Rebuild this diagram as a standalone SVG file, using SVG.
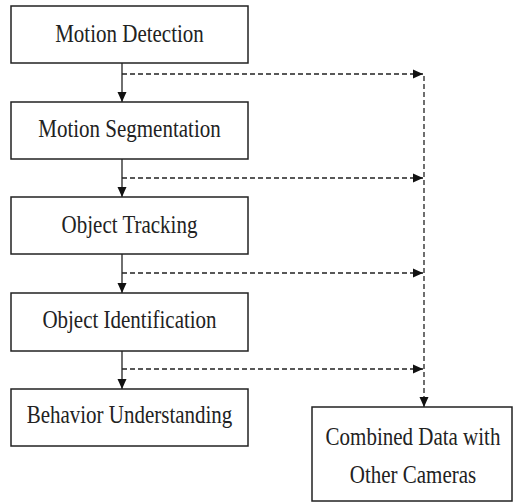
<svg xmlns="http://www.w3.org/2000/svg" width="513" height="502" viewBox="0 0 513 502">
<defs>
<marker id="ah" viewBox="0 0 10 10" refX="10" refY="5" markerWidth="10" markerHeight="10" markerUnits="userSpaceOnUse" orient="auto">
<path d="M0,0.5 L10,5 L0,9.5 Z" fill="#111"/>
</marker>
<style>
.box{fill:#fff;stroke:#222;stroke-width:1.5}
.lbl{font-family:'Liberation Serif',serif;font-size:21px;fill:#222;text-anchor:middle}
.solid{stroke:#222;stroke-width:1.3;fill:none}
.dash{stroke:#222;stroke-width:1.3;fill:none;stroke-dasharray:5,3}
</style>
</defs>
<rect width="513" height="502" fill="#fff"/>
<g id="connectors">
<line class="solid" x1="122" y1="63" x2="122" y2="102" marker-end="url(#ah)"/>
<line class="solid" x1="122" y1="159" x2="122" y2="197" marker-end="url(#ah)"/>
<line class="solid" x1="122" y1="254" x2="122" y2="293" marker-end="url(#ah)"/>
<line class="solid" x1="122" y1="351" x2="122" y2="389" marker-end="url(#ah)"/>
<line class="dash" x1="122" y1="74" x2="423" y2="74" marker-end="url(#ah)"/>
<line class="dash" x1="122" y1="178" x2="423" y2="178" marker-end="url(#ah)"/>
<line class="dash" x1="122" y1="273" x2="423" y2="273" marker-end="url(#ah)"/>
<line class="dash" x1="122" y1="369" x2="423" y2="369" marker-end="url(#ah)"/>
<line class="dash" x1="424" y1="76" x2="424" y2="407" marker-end="url(#ah)"/>
</g>
<g id="motion-detection">
<rect class="box" x="11" y="6" width="237" height="57"/>
<text class="lbl" transform="translate(129.5,42) scale(1,1.15)">Motion Detection</text>
</g>
<g id="motion-segmentation">
<rect class="box" x="11" y="102" width="237" height="57"/>
<text class="lbl" transform="translate(129.5,137) scale(1,1.15)">Motion Segmentation</text>
</g>
<g id="object-tracking">
<rect class="box" x="11" y="197" width="237" height="57"/>
<text class="lbl" transform="translate(129.5,233) scale(1,1.15)">Object Tracking</text>
</g>
<g id="object-identification">
<rect class="box" x="11" y="293" width="237" height="58"/>
<text class="lbl" transform="translate(129.5,328) scale(1,1.15)">Object Identification</text>
</g>
<g id="behavior-understanding">
<rect class="box" x="11" y="389" width="237" height="57"/>
<text class="lbl" transform="translate(129.5,423) scale(1,1.15)">Behavior Understanding</text>
</g>
<g id="combined-data">
<rect class="box" x="312" y="407" width="200" height="94"/>
<text class="lbl" transform="translate(413,445) scale(1,1.15)">Combined Data with</text>
<text class="lbl" transform="translate(413,483) scale(1,1.15)">Other Cameras</text>
</g>
</svg>
